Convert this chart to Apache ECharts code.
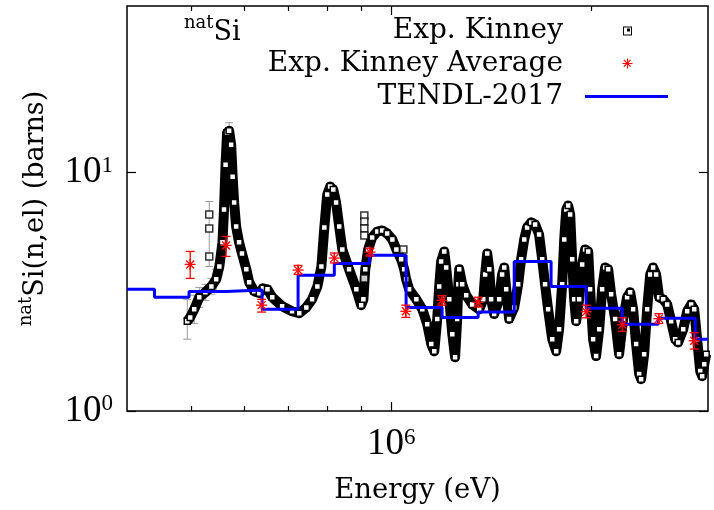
<!DOCTYPE html>
<html><head><meta charset="utf-8">
<script src="https://cdn.jsdelivr.net/npm/echarts@6/dist/echarts.min.js"></script>
<style>html,body{margin:0;padding:0;background:#fff}#c{width:714px;height:510px}</style>
</head><body><div id="c"></div>
<script>
// ---- Data (energy in eV, cross section in barns) ----
const kinneyE = [
 4.93e5,4.98e5,5.05e5,5.14e5,5.25e5,5.36e5,5.45e5,5.51e5,5.57e5,5.60e5,
 5.63e5,5.66e5,5.70e5,5.74e5,5.77e5,5.80e5,5.84e5,5.90e5,5.96e5,6.05e5,
 6.11e5,6.22e5,6.33e5,6.41e5,6.51e5,6.62e5,6.85e5,7.09e5,7.27e5,7.45e5,
 7.60e5,7.74e5,7.85e5,7.93e5,8.01e5,8.09e5,8.18e5,8.26e5,8.35e5,8.44e5,
 8.64e5,8.86e5,9.01e5,9.08e5,9.14e5,9.23e5,9.36e5,9.53e5,9.69e5,9.86e5,
 1.004e6,1.018e6,1.035e6,1.046e6,1.053e6,1.064e6,1.091e6,1.114e6,1.133e6,1.149e6,
 1.161e6,1.173e6,1.181e6,1.189e6,1.202e6,1.210e6,1.223e6,1.236e6,1.248e6,1.257e6,
 1.262e6,1.266e6,1.279e6,1.297e6,1.324e6,1.357e6,1.376e6,1.385e6,1.395e6,1.405e6,
 1.414e6,1.429e6,1.454e6,1.469e6,1.480e6,1.490e6,1.505e6,1.532e6,1.553e6,1.569e6,
 1.586e6,1.602e6,1.625e6,1.647e6,1.670e6,1.688e6,1.705e6,1.723e6,1.748e6,1.772e6,
 1.790e6,1.809e6,1.822e6,1.835e6,1.847e6,1.860e6,1.873e6,1.886e6,1.899e6,1.919e6,
 1.939e6,1.959e6,1.980e6,1.993e6,2.014e6,2.035e6,2.057e6,2.078e6,2.100e6,2.122e6,
 2.144e6,2.174e6,2.204e6,2.235e6,2.266e6,2.290e6,2.314e6,2.338e6,2.363e6,2.379e6,
 2.404e6,2.429e6,2.455e6,2.480e6,2.506e6,2.532e6,2.568e6,2.604e6,2.640e6,2.677e6,
 2.705e6,2.753e6,2.791e6,2.830e6,2.860e6,2.889e6,2.920e6,2.940e6,2.961e6,2.981e6
];
const kinneyXS = [
 2.38,2.47,2.67,3.00,3.15,3.33,3.57,4.04,5.10,7.00,
 10.8,14.7,15.0,13.1,9.62,7.49,5.94,5.10,4.58,3.93,
 3.47,3.18,3.12,3.27,3.24,3.00,2.75,2.62,2.57,2.72,
 2.94,3.33,4.04,5.89,8.09,8.74,8.49,7.49,5.94,4.76,
 3.93,3.24,2.78,2.94,3.93,4.76,5.35,5.66,5.72,5.56,
 5.24,4.76,4.33,3.93,3.57,3.24,2.94,2.67,2.31,1.91,
 1.78,2.43,3.33,4.24,4.67,4.00,2.94,2.10,1.68,2.43,
 3.40,3.93,3.40,3.06,2.80,2.67,2.94,3.74,4.58,3.93,
 2.94,2.55,2.94,3.74,4.00,3.24,2.43,2.72,3.40,4.33,
 5.24,5.89,6.18,6.06,5.50,4.33,3.40,2.67,2.00,1.78,
 2.20,3.40,5.24,7.00,7.28,6.67,4.33,2.94,2.38,2.94,
 4.12,4.76,4.67,3.24,2.00,1.70,2.20,3.24,4.00,3.93,
 3.09,2.43,1.73,2.43,3.00,3.15,2.67,1.91,1.43,1.36,
 1.73,2.67,3.74,4.00,3.74,3.00,2.94,2.80,2.38,2.00,
 1.94,2.20,2.62,2.80,2.67,2.00,1.47,1.40,1.57,1.73
];
// isolated Kinney points off the main band
const kinneyExtraE  = [5.32e5,5.32e5,5.32e5,9.11e5,9.11e5,9.11e5,9.11e5,9.11e5,1.043e6];
const kinneyExtraXS = [6.67,5.83,4.45,6.61,6.24,5.83,5.45,3.60,4.76];
// visible Kinney uncertainty bars (low energy)
const kinneyErrE  = [4.93e5,5.05e5,5.14e5,5.25e5,5.36e5,5.45e5,5.32e5,5.57e5,5.63e5,5.70e5];
const kinneyErrLo = [2.00,2.33,2.72,2.91,3.09,3.18,4.04,4.60,9.90,13.9];
const kinneyErrHi = [2.94,3.06,3.30,3.40,3.60,3.93,7.56,5.60,11.8,16.2];
// Kinney averages
const avgE  = [4.98e5,5.64e5,6.38e5,7.24e5,8.21e5,9.29e5,1.052e6,1.192e6,1.352e6,1.967e6,2.23e6,2.53e6,2.86e6];
const avgXS = [4.12,4.95,2.78,3.90,4.38,4.64,2.62,2.91,2.86,2.61,2.30,2.44,1.97];
const avgLo = [3.60,4.45,2.60,3.74,4.18,4.47,2.47,2.78,2.73,2.46,2.16,2.33,1.82];
const avgHi = [4.67,5.40,2.94,4.08,4.60,4.82,2.78,3.05,3.00,2.78,2.46,2.56,2.13];
// TENDL-2017 group-wise (bin start energy, value)
const tendlE  = [4.0e5,4.4e5,4.96e5,5.64e5,6.39e5,7.24e5,8.21e5,9.27e5,1.053e6,1.193e6,1.352e6,1.532e6,1.741e6,1.966e6,2.228e6,2.524e6,2.87e6,3.0e6];
const tendlXS = [3.24,3.00,3.17,3.22,2.67,3.71,4.16,4.50,2.72,2.47,2.60,4.24,3.33,2.70,2.31,2.45,2.00,2.00];
// axes
const xMin = 4e5, xMax = 3e6, yMin = 1, yMax = 50;
const xMajorTicks = [1e6];
const xMinorTicks = [5e5,6e5,7e5,8e5,9e5,2e6];
const yMajorTicks = [1,10];

const serif = 'DejaVu Serif';
const tickFont = 'Liberation Serif';
const pow10 = v => '10{s|' + Math.round(Math.log10(v)) + '}';
const tickRich = { s: { fontFamily: tickFont, fontSize: 23, fontWeight: 'normal', verticalAlign: 'top', lineHeight: 22, color: '#000' } };

const kinney = kinneyE.map((e, i) => [e, kinneyXS[i]]);
const kinneyExtra = kinneyExtraE.map((e, i) => [e, kinneyExtraXS[i]]);
const kinneyErr = kinneyErrE.map((e, i) => [e, kinneyErrLo[i], kinneyErrHi[i]]);
const avg = avgE.map((e, i) => [e, avgLo[i], avgHi[i], avgXS[i]]);
const tendl = tendlE.map((e, i) => [e, tendlXS[i]]);

function xAxisDef(pos, ticks, len, withLabel) {
  return {
    type: 'log', min: xMin, max: xMax, position: pos, gridIndex: 0,
    axisLine: { show: false }, splitLine: { show: false },
    axisTick: { show: true, inside: true, length: len, customValues: ticks, lineStyle: { color: '#000', width: 1.2 } },
    axisLabel: withLabel ? {
      show: true, customValues: xMajorTicks, formatter: pow10, margin: 15,
      fontFamily: tickFont, fontSize: 37, color: '#000', rich: tickRich
    } : { show: false }
  };
}

const supRich = {
  a: { fontFamily: serif, fontSize: 18, fontWeight: 'normal', color: '#000', verticalAlign: 'top', lineHeight: 18 },
  b: { fontFamily: serif, fontSize: 27, fontWeight: 'normal', color: '#000', lineHeight: 37 }
};

const option = {
  animation: false,
  backgroundColor: '#fff',
  grid: { left: 127, right: 6, top: 6, bottom: 98, show: true, borderColor: '#000', borderWidth: 1.5, backgroundColor: 'transparent' },
  title: {
    text: '{a|nat}{b|Si}', left: 184, top: 14, padding: 0,
    textStyle: { fontWeight: 'normal', rich: supRich }
  },
  legend: {
    orient: 'vertical', align: 'right', right: 46, top: 14, padding: 0, itemGap: 0,
    itemWidth: 83, itemHeight: 14, selectedMode: false,
    textStyle: { fontFamily: serif, fontSize: 28, color: '#000', lineHeight: 27, padding: [0, 17, 6, 0] },
    data: [
      { name: 'Exp. Kinney', icon: 'path://M0,0L0,0M83,14L83,14M38,3H47V12H38ZM39,4V11H46V4ZM42,5H45V8H42Z', itemStyle: { color: '#000', borderWidth: 0 } },
      { name: 'Exp. Kinney Average', icon: 'path://M0,0L0,0M83,14L83,14M42,2H43V12H42ZM37.5,6.5H47.5V7.5H37.5ZM38.4,3.7L39.2,2.9L46.1,9.8L45.3,10.6ZM45.3,2.9L46.1,3.7L39.2,10.6L38.4,9.8Z', itemStyle: { color: '#ff0000', borderWidth: 0 } },
      { name: 'TENDL-2017', icon: 'path://M0,0L0,0M83,14L83,14M0,5.5H83V8.5H0Z', itemStyle: { color: '#0000ff', borderWidth: 0 } }
    ]
  },
  xAxis: [
    Object.assign(xAxisDef('bottom', xMajorTicks, 9, true), {
      name: 'Energy (eV)', nameLocation: 'middle', nameGap: 66,
      nameTextStyle: { fontFamily: serif, fontSize: 27.5, color: '#000' }
    }),
    xAxisDef('bottom', xMinorTicks, 5, false),
    xAxisDef('top', xMajorTicks, 9, false),
    xAxisDef('top', xMinorTicks, 5, false)
  ],
  yAxis: [
    {
      type: 'log', min: yMin, max: yMax, position: 'left',
      axisLine: { show: false }, splitLine: { show: false },
      axisTick: { show: true, inside: true, length: 9, customValues: yMajorTicks, lineStyle: { color: '#000', width: 1.2 } },
      axisLabel: { customValues: yMajorTicks, formatter: pow10, margin: 14, fontFamily: tickFont, fontSize: 37, color: '#000', rich: tickRich },
      name: '{a|nat}{b|Si(n,el) (barns)}', nameLocation: 'middle', nameRotate: 90, nameGap: 73,
      nameTextStyle: { rich: supRich }
    },
    {
      type: 'log', min: yMin, max: yMax, position: 'right',
      axisLine: { show: false }, splitLine: { show: false },
      axisTick: { show: true, inside: true, length: 9, customValues: yMajorTicks, lineStyle: { color: '#000', width: 1.2 } },
      axisLabel: { show: false }
    }
  ],
  series: [
    {
      name: 'Kinney uncertainty', type: 'custom', xAxisIndex: 0, yAxisIndex: 0, clip: true,
      data: kinneyErr, encode: { x: 0, y: [1, 2] }, silent: true,
      renderItem: (params, api) => {
        const e = api.value(0);
        const lo = api.coord([e, api.value(1)]);
        const hi = api.coord([e, api.value(2)]);
        const st = { stroke: '#9a9a9a', lineWidth: 1 };
        return { type: 'group', children: [
          { type: 'line', shape: { x1: lo[0], y1: lo[1], x2: hi[0], y2: hi[1] }, style: st },
          { type: 'line', shape: { x1: lo[0] - 4, y1: lo[1], x2: lo[0] + 4, y2: lo[1] }, style: st },
          { type: 'line', shape: { x1: hi[0] - 4, y1: hi[1], x2: hi[0] + 4, y2: hi[1] }, style: st }
        ] };
      }
    },
    {
      name: 'Exp. Kinney', type: 'line', xAxisIndex: 0, yAxisIndex: 0, data: kinney,
      symbol: 'rect', symbolSize: 6, showSymbol: true,
      itemStyle: { color: '#ffffff', borderColor: '#000', borderWidth: 1.5 },
      lineStyle: { color: '#000', width: 10, join: 'round' }, z: 2
    },
    {
      name: 'Exp. Kinney', type: 'scatter', xAxisIndex: 0, yAxisIndex: 0, data: kinneyExtra,
      symbol: 'rect', symbolSize: 7,
      itemStyle: { color: '#ffffff', borderColor: '#000', borderWidth: 1.5 }, z: 2
    },
    {
      name: 'TENDL-2017', type: 'line', step: 'end', xAxisIndex: 0, yAxisIndex: 0, data: tendl,
      showSymbol: false, symbol: 'none', lineStyle: { color: '#0000ff', width: 3 }, itemStyle: { color: '#0000ff' }, z: 3
    },
    {
      name: 'Exp. Kinney Average', type: 'custom', xAxisIndex: 0, yAxisIndex: 0, clip: true,
      data: avg, encode: { x: 0, y: [1, 2, 3] }, itemStyle: { color: '#ff0000' }, z: 4,
      renderItem: (params, api) => {
        const e = api.value(0);
        const lo = api.coord([e, api.value(1)]);
        const hi = api.coord([e, api.value(2)]);
        const p = api.coord([e, api.value(3)]);
        const st = { stroke: '#ff0000', lineWidth: 1.3 };
        const r = 5.5, d = 4, cw = 4.5;
        const ln = (x1, y1, x2, y2) => ({ type: 'line', shape: { x1, y1, x2, y2 }, style: st });
        return { type: 'group', children: [
          ln(lo[0], lo[1], hi[0], hi[1]),
          ln(lo[0] - cw, lo[1], lo[0] + cw, lo[1]),
          ln(hi[0] - cw, hi[1], hi[0] + cw, hi[1]),
          ln(p[0] - r, p[1], p[0] + r, p[1]),
          ln(p[0], p[1] - r, p[0], p[1] + r),
          ln(p[0] - d, p[1] - d, p[0] + d, p[1] + d),
          ln(p[0] - d, p[1] + d, p[0] + d, p[1] - d)
        ] };
      }
    }
  ]
};
const chart = echarts.init(document.getElementById('c'), null, { renderer: 'canvas' });
chart.setOption(option);
</script>
</body></html>
